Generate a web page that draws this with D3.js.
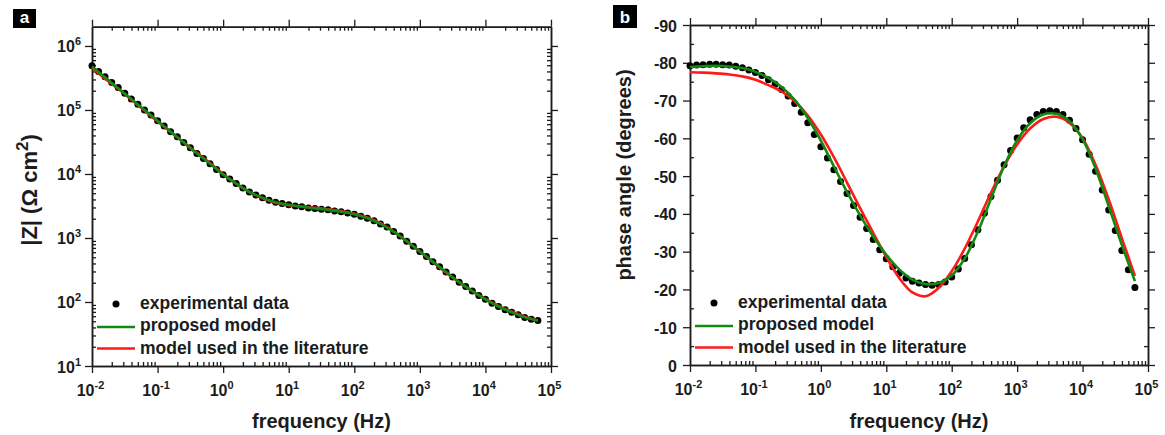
<!DOCTYPE html>
<html>
<head>
<meta charset="utf-8">
<script src="https://cdn.jsdelivr.net/npm/d3@7"></script>
<style>
  body { margin: 0; background: #fff; }
  svg { display: block; font-family: "Liberation Sans", Arial, sans-serif; font-weight: bold; }
</style>
</head>
<body>
<svg id="chart" width="1165" height="435"></svg>
<script>
// ---- measured impedance spectrum (frequency in Hz) ----
const freqExp = [
  0.01, 0.0126, 0.0158, 0.02, 0.0251, 0.0316, 0.0398, 0.0501, 0.0631, 0.0794,
  0.1, 0.126, 0.158, 0.2, 0.251, 0.316, 0.398, 0.501, 0.631, 0.794,
  1, 1.26, 1.58, 2, 2.51, 3.16, 3.98, 5.01, 6.31, 7.94,
  10, 12.6, 15.8, 20, 25.1, 31.6, 39.8, 50.1, 63.1, 79.4,
  100, 126, 158, 200, 251, 316, 398, 501, 631, 794,
  1000, 1260, 1580, 2000, 2510, 3160, 3980, 5010, 6310, 7940,
  10000, 12600, 15800, 20000, 25100, 31600, 39800, 50100, 63100
];
// |Z| in ohm cm^2
const modulusExp = [
  4.90e5, 3.98e5, 3.31e5, 2.69e5, 2.24e5, 1.82e5, 1.48e5, 1.23e5, 1.00e5, 8.32e4,
  6.76e4, 5.62e4, 4.57e4, 3.80e4, 3.09e4, 2.57e4, 2.09e4, 1.74e4, 1.45e4, 1.17e4,
  9770, 8320, 7080, 6030, 5250, 4680, 4270, 3890, 3630, 3470,
  3310, 3160, 3090, 2950, 2880, 2820, 2750, 2630, 2570, 2450,
  2340, 2190, 2040, 1860, 1660, 1480, 1260, 1070, 891, 741,
  617, 513, 427, 355, 295, 245, 204, 174, 148, 126,
  110, 95.5, 85.1, 75.9, 69.2, 63.1, 57.5, 53.7, 51.3
];
// phase angle in degrees
const phaseExp = [
  -79.2, -79.4, -79.5, -79.6, -79.6, -79.5, -79.4, -79.1, -78.7, -78.1,
  -77.4, -76.6, -75.5, -74.3, -72.9, -71.2, -69.2, -66.9, -64.1, -61.0,
  -57.8, -54.8, -51.7, -48.6, -45.4, -42.2, -39.1, -36.1, -33.2, -30.5,
  -28.1, -26.0, -24.3, -23.0, -22.2, -21.7, -21.3, -21.1, -21.3, -22.0,
  -23.3, -25.4, -28.2, -31.8, -35.8, -40.2, -44.6, -48.9, -53.0, -56.8,
  -60.1, -62.8, -64.9, -66.3, -67.1, -67.3, -67.1, -66.3, -64.8, -62.6,
  -59.6, -55.8, -51.3, -46.3, -41.0, -35.6, -30.3, -25.2, -20.5
];

// ---- fitted models ----
const freqModel = [
  0.01, 0.0158, 0.0251, 0.0398, 0.0631,
  0.1, 0.158, 0.251, 0.398, 0.631,
  1, 1.58, 2.51, 3.98, 6.31,
  10, 15.8, 25.1, 39.8, 63.1,
  100, 158, 251, 398, 631,
  1000, 1580, 2510, 3980, 6310,
  10000, 15800, 25100, 39800, 63100
];
const modulusProposed = [
  4.79e5, 3.24e5, 2.19e5, 1.48e5, 1.00e5,
  6.76e4, 4.57e4, 3.09e4, 2.09e4, 1.45e4,
  9770, 7080, 5250, 4270, 3630,
  3310, 3090, 2880, 2750, 2570,
  2340, 2040, 1660, 1260, 891,
  617, 427, 295, 204, 148,
  110, 85.1, 69.2, 57.5, 51.3
];
const modulusLiterature = [
  4.57e5, 3.09e5, 2.14e5, 1.45e5, 9.77e4,
  6.61e4, 4.57e4, 3.09e4, 2.14e4, 1.48e4,
  1.00e4, 7080, 5250, 4170, 3550,
  3240, 3090, 2950, 2820, 2630,
  2400, 2090, 1700, 1260, 891,
  617, 417, 288, 204, 148,
  112, 87.1, 70.8, 58.9, 51.3
];
const phaseProposed = [
  -78.9, -79.1, -79.2, -79.0, -78.6,
  -77.6, -76.0, -73.6, -70.2, -65.4,
  -59.4, -52.6, -45.8, -39.6, -34.0,
  -29.2, -25.3, -22.6, -21.4, -21.7,
  -23.7, -28.2, -35.3, -44.0, -52.6,
  -59.5, -64.0, -66.3, -66.5, -64.5,
  -59.8, -52.0, -42.0, -31.8, -22.2
];
const phaseLiterature = [
  -77.5, -77.4, -77.2, -76.9, -76.4,
  -75.5, -74.1, -72.4, -69.8, -66.0,
  -61.0, -55.0, -48.3, -41.5, -35.0,
  -28.6, -23.0, -19.2, -18.2, -20.4,
  -24.8, -30.8, -38.0, -45.6, -52.6,
  -58.4, -62.6, -65.1, -65.7, -64.1,
  -60.0, -53.0, -43.8, -33.6, -23.6
];

// ---- axis ticks and labels ----
const freqTicks = [1e-2, 1e-1, 1e0, 1e1, 1e2, 1e3, 1e4, 1e5];
const modulusTicks = [1e1, 1e2, 1e3, 1e4, 1e5, 1e6];
const phaseTicks = [0, -10, -20, -30, -40, -50, -60, -70, -80, -90];
const phaseMinorTicks = [-5, -15, -25, -35, -45, -55, -65, -75, -85];
const legendLabels = ["experimental data", "proposed model", "model used in the literature"];

const INK = "#1c1c1c";
const GREEN = "#118a11";
const RED = "#ff1a1a";

const svg = d3.select("#chart");

function powerLabel(sel, anchor, dx, dy) {
  sel.each(function (d) {
    const exp = Math.round(Math.log10(d));
    const t = d3.select(this).append("text")
      .attr("fill", INK)
      .attr("text-anchor", anchor)
      .attr("x", dx).attr("y", dy)
      .style("font-size", "16px");
    t.append("tspan").text("10");
    t.append("tspan").attr("dy", -7).style("font-size", "11px").text(exp);
  });
}

function styleAxis(g) {
  g.attr("color", INK);
  g.selectAll("path.domain").attr("stroke-width", 1.5);
  g.selectAll(".tick line").attr("stroke-width", 1.3);
}

function buildPanel(p) {
  const x = d3.scaleLog().domain([1e-2, 1e5]).range([p.left, p.right]);
  const y = p.y;
  const g = svg.append("g");

  const minorX = x.ticks().filter(v => !freqTicks.some(t => Math.abs(t - v) / t < 1e-6));

  // bottom
  g.append("g").attr("transform", `translate(0,${p.bottom})`)
    .call(d3.axisBottom(x).tickValues(minorX).tickSize(-4).tickSizeOuter(0).tickFormat(""))
    .call(styleAxis);
  const bottom = g.append("g").attr("transform", `translate(0,${p.bottom})`)
    .call(d3.axisBottom(x).tickValues(freqTicks).tickSize(7).tickSizeOuter(0).tickFormat(""))
    .call(styleAxis);
  bottom.selectAll(".tick").call(powerLabel, "middle", -2, 30);

  // top
  g.append("g").attr("transform", `translate(0,${p.top})`)
    .call(d3.axisTop(x).tickValues(minorX).tickSize(-4).tickSizeOuter(0).tickFormat(""))
    .call(styleAxis);
  g.append("g").attr("transform", `translate(0,${p.top})`)
    .call(d3.axisTop(x).tickValues(freqTicks).tickSize(7).tickSizeOuter(0).tickFormat(""))
    .call(styleAxis);

  // left and right
  [["left", p.left, d3.axisLeft], ["right", p.right, d3.axisRight]].forEach(([side, pos, mk]) => {
    g.append("g").attr("transform", `translate(${pos},0)`)
      .call(mk(y).tickValues(p.minorY).tickSize(-4).tickSizeOuter(0).tickFormat(""))
      .call(styleAxis);
    const major = g.append("g").attr("transform", `translate(${pos},0)`)
      .call(mk(y).tickValues(p.majorY).tickSize(7).tickSizeOuter(0).tickFormat(""))
      .call(styleAxis);
    if (side === "left") p.labelY(major.selectAll(".tick"));
  });

  // axis titles
  g.append("text").attr("x", (p.left + p.right) / 2).attr("y", 428)
    .attr("text-anchor", "middle").attr("fill", INK).style("font-size", "20px")
    .text("frequency (Hz)");
  p.titleY(g);

  // panel tag
  g.append("rect").attr("x", p.tag.x).attr("y", p.tag.y)
    .attr("width", p.tag.w).attr("height", p.tag.h).attr("fill", "#000");
  g.append("text").attr("x", p.tag.x + p.tag.w / 2).attr("y", p.tag.y + p.tag.h - 5)
    .attr("text-anchor", "middle").attr("fill", "#fff").style("font-size", "17px")
    .text(p.tag.label);

  // data and model curves
  const expPts = freqExp.map((f, i) => ({ f, v: p.exp[i] }));
  g.append("g").selectAll("circle").data(expPts).join("circle")
    .attr("cx", d => x(d.f)).attr("cy", d => y(d.v)).attr("r", 3.5).attr("fill", "#000");

  const line = d3.line().x(d => x(d.f)).y(d => y(d.v)).curve(d3.curveCatmullRom.alpha(0.5));
  [[p.literature, RED], [p.proposed, GREEN]].forEach(([vals, col]) => {
    g.append("path")
      .datum(freqModel.map((f, i) => ({ f, v: vals[i] })))
      .attr("d", line).attr("fill", "none")
      .attr("stroke", col).attr("stroke-width", 2.6);
  });

  // legend
  const lx = p.left, ly = p.legendTop;
  const leg = g.append("g");
  leg.append("circle").attr("cx", lx + 24).attr("cy", ly).attr("r", 3.5).attr("fill", "#000");
  leg.append("line").attr("x1", lx + 5).attr("x2", lx + 43)
    .attr("y1", ly + 23).attr("y2", ly + 23).attr("stroke", GREEN).attr("stroke-width", 2.6);
  leg.append("line").attr("x1", lx + 5).attr("x2", lx + 43)
    .attr("y1", ly + 44.5).attr("y2", ly + 44.5).attr("stroke", RED).attr("stroke-width", 2.6);
  legendLabels.forEach((t, i) => {
    leg.append("text").attr("x", lx + 48).attr("y", ly + 4.5 + i * 22.8)
      .attr("fill", INK).style("font-size", "17.5px").text(t);
  });
}

// panel a: impedance modulus
const yMod = d3.scaleLog().domain([10, 2e6]).range([366, 26.7]);
buildPanel({
  left: 92, right: 551, top: 26.7, bottom: 366,
  y: yMod,
  majorY: modulusTicks,
  minorY: yMod.ticks().filter(v => v < 2e6 && !modulusTicks.includes(v)),
  labelY: ticks => ticks.call(powerLabel, "end", -11, 6),
  titleY: g => {
    const t = g.append("text").attr("transform", "translate(37,190) rotate(-90)")
      .attr("text-anchor", "middle").attr("fill", INK).style("font-size", "22px");
    t.append("tspan").text("|Z| (\u03A9 cm");
    t.append("tspan").attr("dy", -9).style("font-size", "17px").text("2");
    t.append("tspan").attr("dy", 9).text(")");
  },
  tag: { x: 13, y: 9, w: 23, h: 19, label: "a" },
  exp: modulusExp, proposed: modulusProposed, literature: modulusLiterature,
  legendTop: 304
});

// panel b: phase angle
const yPh = d3.scaleLinear().domain([0, -90]).range([365, 25]);
buildPanel({
  left: 690, right: 1148, top: 25, bottom: 365,
  y: yPh,
  majorY: phaseTicks,
  minorY: phaseMinorTicks,
  labelY: ticks => ticks.append("text").attr("fill", INK).attr("text-anchor", "end")
    .attr("x", -13).attr("y", 6).style("font-size", "16px").text(d => String(d)),
  titleY: g => {
    g.append("text").attr("transform", "translate(631,175) rotate(-90)")
      .attr("text-anchor", "middle").attr("fill", INK).style("font-size", "20px")
      .text("phase angle (degrees)");
  },
  tag: { x: 613, y: 5, w: 24, h: 23, label: "b" },
  exp: phaseExp, proposed: phaseProposed, literature: phaseLiterature,
  legendTop: 303
});
</script>
</body>
</html>
